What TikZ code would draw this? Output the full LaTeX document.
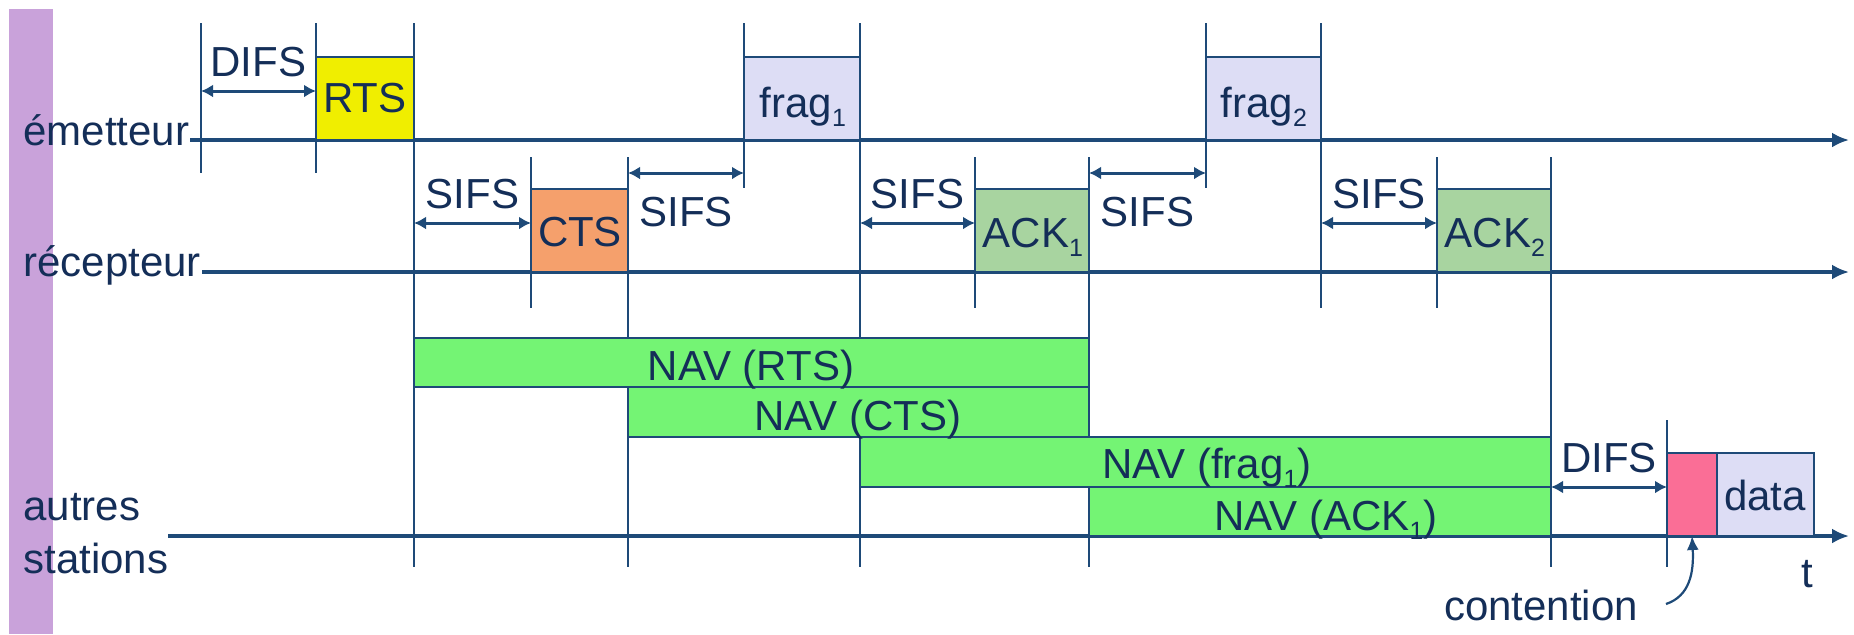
\documentclass[tikz,border=0pt]{standalone}
\usepackage{fontspec}
\setmainfont{Liberation Sans}
\usetikzlibrary{arrows.meta,fit}

\definecolor{ink}{HTML}{142E58}
\definecolor{rule}{HTML}{1E4A78}
\definecolor{sidebar}{HTML}{C9A2DA}
\definecolor{rtsfill}{HTML}{F0EE00}
\definecolor{ctsfill}{HTML}{F5A06C}
\definecolor{fragfill}{HTML}{DDDDF5}
\definecolor{ackfill}{HTML}{A8D4A0}
\definecolor{navfill}{HTML}{74F474}
\definecolor{contfill}{HTML}{FA6E96}

% lowered index after a frame name
\newcommand\lowsub[1]{\raisebox{-4.5pt}{\fontsize{12.5}{12.5}\selectfont #1}}

\begin{document}
\begin{tikzpicture}[x=0.5pt,y=-0.5pt,
  lbl/.style={text=ink, font=\fontsize{21}{25}\selectfont, inner sep=0, anchor=base},
  lblw/.style={lbl, anchor=base west},
  tick/.style={draw=rule, line width=1pt},
  axis/.style={draw=rule, line width=1.6pt, -{Latex[length=8.5pt,width=7.5pt]}},
  span/.style={draw=rule, line width=1.5pt, {Latex[length=6pt,width=6.5pt]}-{Latex[length=6pt,width=6.5pt]}},
  frame/.style={draw=rule, line width=0.8pt, inner sep=0pt, outer sep=0pt},
  above span/.style={lbl, midway, yshift=7.5pt},
  below span/.style={lbl, midway, yshift=-26.5pt}]

\useasboundingbox (0,0) rectangle (1854,634);
\fill[white] (0,0) rectangle (1854,634);
\fill[sidebar] (9,9) rectangle (53,634);

% station names
\node[lblw] (emit) at (23,145) {émetteur};
\node[lblw] (recv) at (23,276) {récepteur};
\node[lblw] (oth1) at (23,520) {autres};
\node[lblw] (oth2) at (23,573) {stations};

% time marks: name / x / top / bottom
\foreach \n/\x/\ya/\yb in {
  difs0/201/23/173, rts0/316/23/173, rts1/414/23/567,
  cts0/531/157/308, cts1/628/157/567,
  fa0/744/23/188, fa1/860/23/567,
  ka0/975/157/308, ka1/1089/157/567,
  fb0/1206/23/188, fb1/1321/23/308,
  kb0/1437/157/308, kb1/1551/157/567,
  cont0/1667/420/567}{
  \coordinate (\n-top) at (\x,\ya);
  \coordinate (\n-bot) at (\x,\yb);
  \draw[tick] (\n-top) -- (\n-bot);
}

% levels of the interval arrows
\coordinate (lvDifs) at (0,91);
\coordinate (lvLow) at (0,173);
\coordinate (lvMid) at (0,223);
\coordinate (lvEnd) at (0,487);

% time axes
\coordinate (emitEnd) at (1849,140);
\coordinate (recvEnd) at (1849,272);
\coordinate (othEnd) at (1849,536);
\draw[axis] (190,140) coordinate (emitStart) -- (emitEnd);
\draw[axis] (202,272) coordinate (recvStart) -- (recvEnd);
\draw[axis] (168,536) coordinate (othStart) -- (othEnd);

% frames on the sender line
\node[frame, fill=rtsfill, fit={(316,57) (414,140)}] (rtsbox) {};
\node[frame, fill=fragfill, fit={(744,57) (860,140)}] (fabox) {};
\node[frame, fill=fragfill, fit={(1206,57) (1321,140)}] (fbbox) {};
\node[lbl] (rtstext) at (365,112) {RTS};
\node[lbl] (fatext) at (803,117) {frag\lowsub{1}};
\node[lbl] (fbtext) at (1264,117) {frag\lowsub{2}};

% frames on the receiver line
\node[frame, fill=ctsfill, fit={(531,189) (628,272)}] (ctsbox) {};
\node[frame, fill=ackfill, fit={(975,189) (1089,272)}] (kabox) {};
\node[frame, fill=ackfill, fit={(1437,189) (1551,272)}] (kbbox) {};
\node[lbl] (ctstext) at (580,246) {CTS};
\node[lbl] (katext) at (1033,247) {ACK\lowsub{1}};
\node[lbl] (kbtext) at (1495,247) {ACK\lowsub{2}};

% network allocation vectors
\node[frame, fill=navfill, fit={(414,338) (1089,387)}] (nav1) {};
\node[frame, fill=navfill, fit={(628,387) (1089,437)}] (nav2) {};
\node[frame, fill=navfill, fit={(860,437) (1551,487)}] (nav3) {};
\node[frame, fill=navfill, fit={(1089,487) (1551,536)}] (nav4) {};
\node[lbl] (nav1text) at (751,380) {NAV (RTS)};
\node[lbl] (nav2text) at (858,430) {NAV (CTS)};
\node[lbl] (nav3text) at (1207,478) {NAV (frag\lowsub{1})};
\node[lbl] (nav4text) at (1326,530) {NAV (ACK\lowsub{1})};

% other stations: contention slot and data
\node[frame, fill=contfill, fit={(1667,453) (1717,536)}] (contbox) {};
\node[frame, fill=fragfill, fit={(1717,453) (1814,536)}] (databox) {};
\node[lbl] (datatext) at (1765,510) {data};

% inter-frame spaces
\draw[span] (difs0-top |- lvDifs) -- node[above span] (difsA) {DIFS} (rts0-top |- lvDifs);
\draw[span] (rts1-top |- lvMid) -- node[above span] (sifsA) {SIFS} (cts0-top |- lvMid);
\draw[span] (cts1-top |- lvLow) -- node[below span] (sifsB) {SIFS} (fa0-top |- lvLow);
\draw[span] (fa1-top |- lvMid) -- node[above span] (sifsC) {SIFS} (ka0-top |- lvMid);
\draw[span] (ka1-top |- lvLow) -- node[below span] (sifsD) {SIFS} (fb0-top |- lvLow);
\draw[span] (fb1-top |- lvMid) -- node[above span] (sifsE) {SIFS} (kb0-top |- lvMid);
\draw[span] (kb1-top |- lvEnd) -- node[above span] (difsB) {DIFS} (cont0-top |- lvEnd);

% time label and contention pointer
\node[lbl] (tlabel) at (1807,587) {t};
\node[lbl] (conttext) at (1541,620) {contention};
\coordinate (contFrom) at (1666,604);
\draw[draw=rule, line width=1.1pt, -{Latex[length=7pt,width=6pt]}]
  (contFrom) .. controls (1690,596) and (1694,572) .. (contbox.south);
\end{tikzpicture}
\end{document}
